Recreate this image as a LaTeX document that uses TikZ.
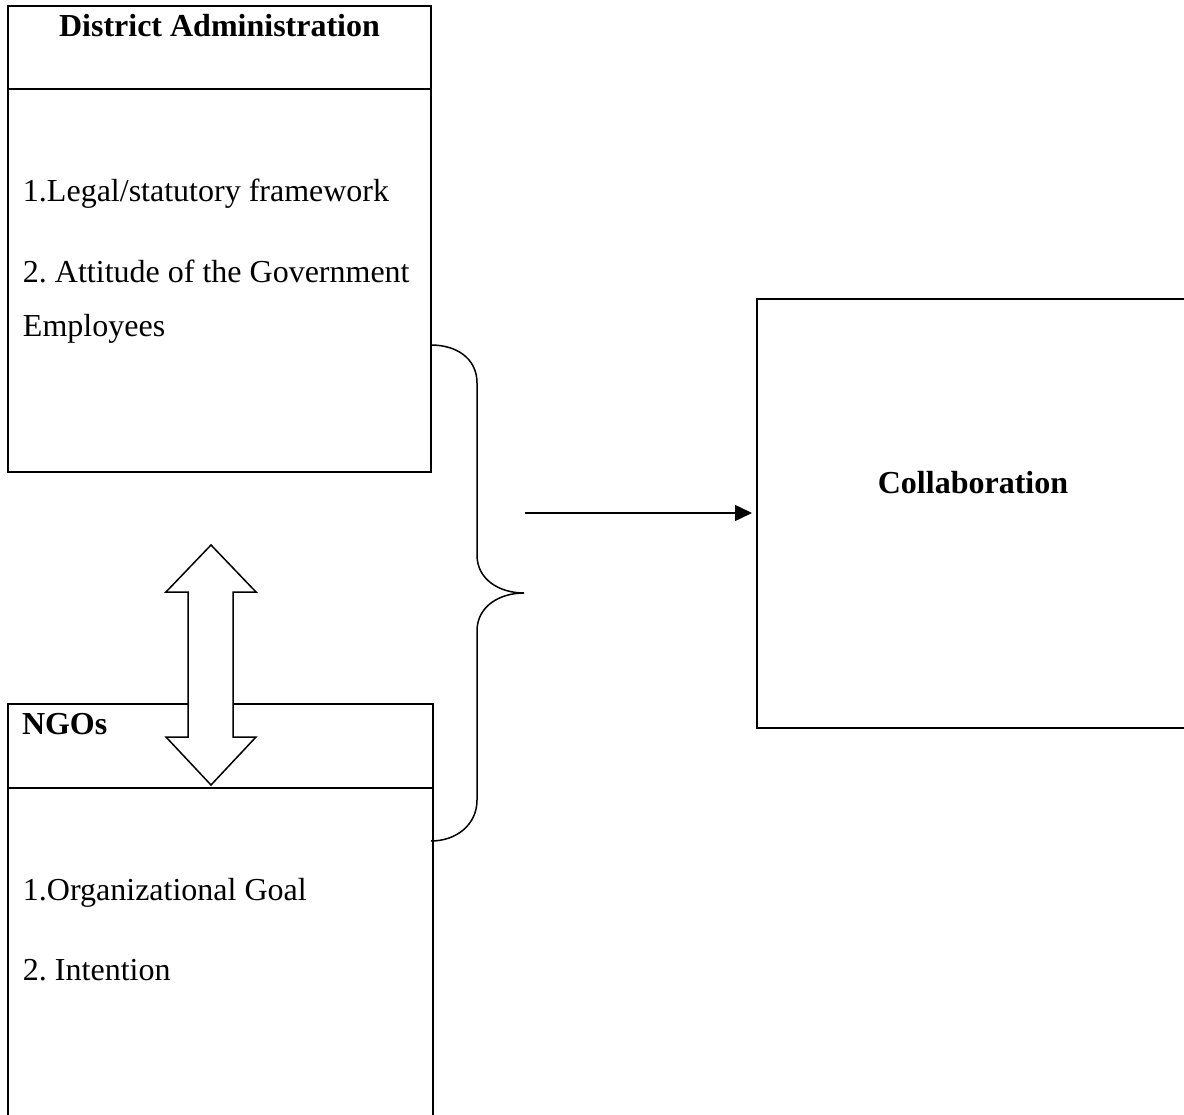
\documentclass[tikz,border=0pt]{standalone}
\usepackage{fontspec}
\setmainfont{Liberation Serif}
\usetikzlibrary{arrows.meta}
\begin{document}
\frenchspacing
\begin{tikzpicture}[x=1pt,y=-1pt,
  box/.style={draw, line width=2.2pt, inner sep=0pt, outer sep=0pt},
  divline/.style={line width=2.2pt},
  txt/.style={inner sep=0pt, outer sep=0pt, font=\fontsize{32}{38}\selectfont},
  btxt/.style={inner sep=0pt, outer sep=0pt, font=\fontsize{32}{38}\selectfont\bfseries},
  conn/.style={line width=1.5pt},
  dblarrow/.style={draw, fill=white, line width=1.5pt, line join=miter}
]
\useasboundingbox (0,0) rectangle (1184,1115);
\begin{scope}
\clip (0,0) rectangle (1184,1115);
% District Administration box
\node[box, minimum width=423pt, minimum height=466pt, anchor=north west] (da) at (8,6) {};
\draw[divline] (8,89) -- (431,89);
\node[btxt, anchor=base] (daTitle) at (219.5,37) {District Administration};
\node[txt, anchor=base west] (da1) at (23,202) {1.Legal/statutory framework};
\node[txt, anchor=base west] (da2) at (23,283) {2. Attitude of the Government};
\node[txt, anchor=base west] (da3) at (23,337) {Employees};
% NGOs box
\node[box, minimum width=425pt, minimum height=440pt, anchor=north west] (ngo) at (8,704) {};
\draw[divline] (8,788) -- (433,788);
\node[btxt, anchor=base west] (ngoTitle) at (22,734) {NGOs};
\node[txt, anchor=base west] (ngo1) at (23,900) {1.Organizational Goal};
\node[txt, anchor=base west] (ngo2) at (23,980) {2. Intention};
% Collaboration box
\node[box, minimum width=480pt, minimum height=429pt, anchor=north west] (coll) at (757,299) {};
\node[btxt, anchor=base] (collText) at (973,493) {Collaboration};
% Brace
\coordinate (bA) at (431,345);
\coordinate (bB) at (477,383);
\coordinate (bC) at (477,555);
\coordinate (bTip) at (524,593);
\coordinate (bD) at (477,631);
\coordinate (bE) at (477,800);
\coordinate (bF) at (431,841);
\draw[conn] (bA) .. controls (456,345) and (477,358) .. (bB) -- (bC)
  .. controls (477,580) and (500,593) .. (bTip)
  .. controls (500,593) and (477,606) .. (bD) -- (bE)
  .. controls (477,825) and (456,841) .. (bF);
% Arrow to Collaboration
\coordinate (arrS) at (525,513);
\draw[conn, shorten >=5pt, -{Triangle[length=17pt,width=16pt]}] (arrS) -- (arrS -| coll.west);
% Double arrow between boxes
\draw[dblarrow] (211,545) -- (256,592) -- (233,592) -- (233,737) -- (256,737)
  -- (211,785) -- (166,737) -- (188,737) -- (188,592) -- (166,592) -- cycle;
\end{scope}
\end{tikzpicture}
\end{document}
